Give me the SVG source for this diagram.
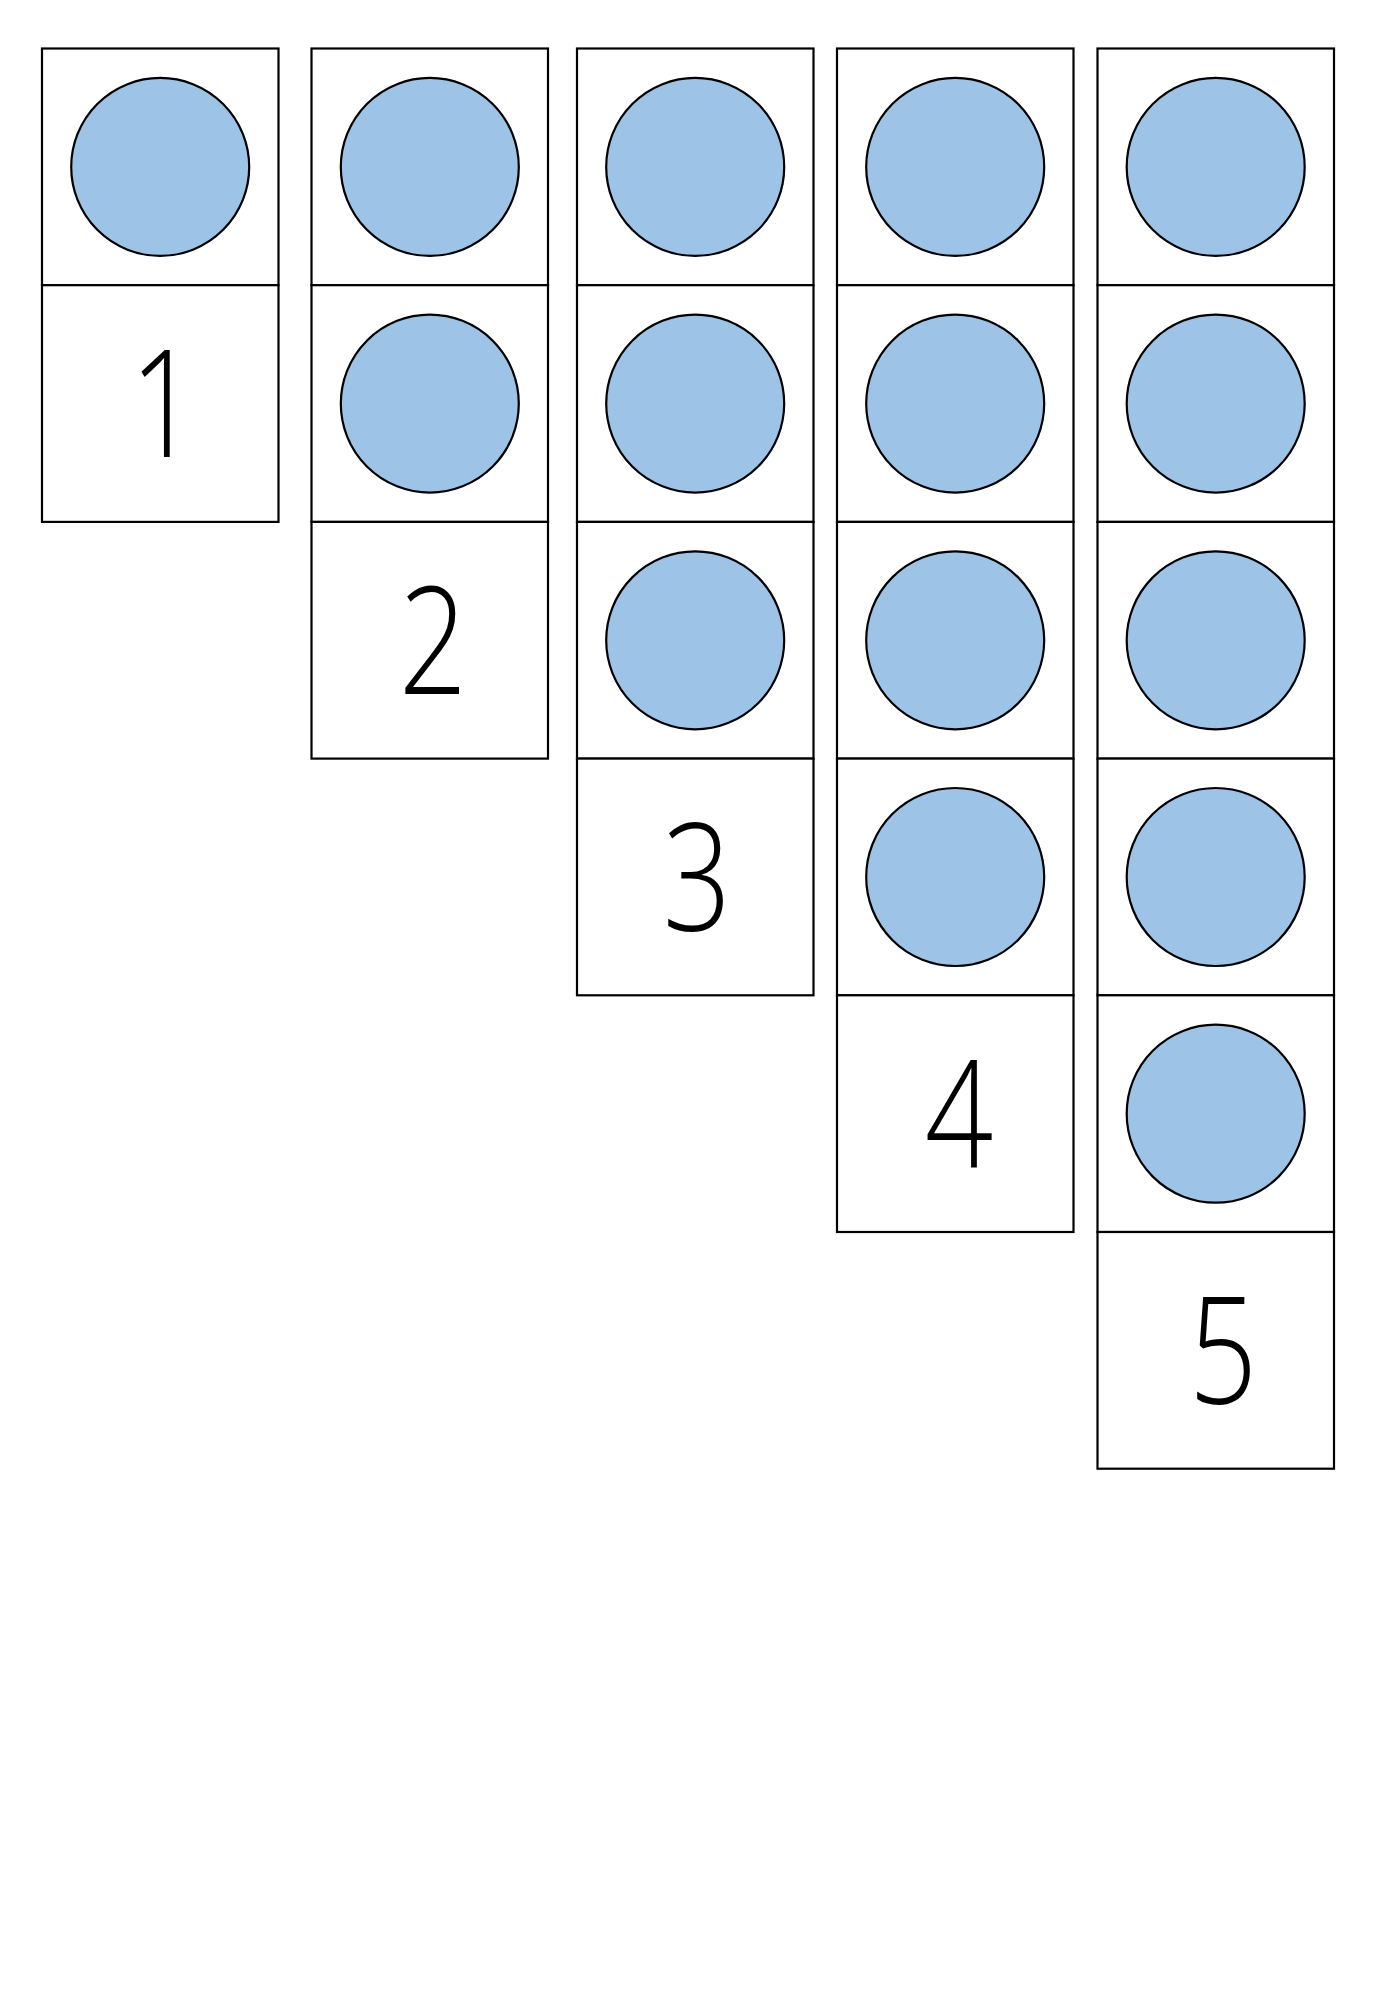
<svg xmlns="http://www.w3.org/2000/svg" width="1385" height="2000" viewBox="0 0 1385 2000">
<style>
.cell{fill:#ffffff;stroke:#000000;stroke-width:2.2}
.dot{fill:#9dc3e6;stroke:#000000;stroke-width:2.2}
.num{font-family:"Open Sans","Liberation Sans",sans-serif;font-weight:300;font-size:150px;fill:#000000;text-anchor:middle}
</style>
<rect x="0" y="0" width="1385" height="2000" fill="#ffffff"/>
<g id="column-1">
<g id="c1-dot1"><rect class="cell" x="42" y="48.5" width="236.5" height="236.7"/><circle class="dot" cx="160.2" cy="166.9" r="89"/></g>
<g id="c1-num"><rect class="cell" x="42" y="285.2" width="236.5" height="236.7"/><text class="num" transform="translate(164 457) scale(0.8 1)">1</text></g>
</g>
<g id="column-2">
<g id="c2-dot1"><rect class="cell" x="311.5" y="48.5" width="236.5" height="236.7"/><circle class="dot" cx="429.8" cy="166.9" r="89"/></g>
<g id="c2-dot2"><rect class="cell" x="311.5" y="285.2" width="236.5" height="236.7"/><circle class="dot" cx="429.8" cy="403.6" r="89"/></g>
<g id="c2-num"><rect class="cell" x="311.5" y="521.9" width="236.5" height="236.7"/><text class="num" transform="translate(433 694) scale(0.8 1)">2</text></g>
</g>
<g id="column-3">
<g id="c3-dot1"><rect class="cell" x="577" y="48.5" width="236.5" height="236.7"/><circle class="dot" cx="695.2" cy="166.9" r="89"/></g>
<g id="c3-dot2"><rect class="cell" x="577" y="285.2" width="236.5" height="236.7"/><circle class="dot" cx="695.2" cy="403.6" r="89"/></g>
<g id="c3-dot3"><rect class="cell" x="577" y="521.9" width="236.5" height="236.7"/><circle class="dot" cx="695.2" cy="640.3" r="89"/></g>
<g id="c3-num"><rect class="cell" x="577" y="758.6" width="236.5" height="236.7"/><text class="num" transform="translate(697 931) scale(0.8 1)">3</text></g>
</g>
<g id="column-4">
<g id="c4-dot1"><rect class="cell" x="837" y="48.5" width="236.5" height="236.7"/><circle class="dot" cx="955.2" cy="166.9" r="89"/></g>
<g id="c4-dot2"><rect class="cell" x="837" y="285.2" width="236.5" height="236.7"/><circle class="dot" cx="955.2" cy="403.6" r="89"/></g>
<g id="c4-dot3"><rect class="cell" x="837" y="521.9" width="236.5" height="236.7"/><circle class="dot" cx="955.2" cy="640.3" r="89"/></g>
<g id="c4-dot4"><rect class="cell" x="837" y="758.6" width="236.5" height="236.7"/><circle class="dot" cx="955.2" cy="877" r="89"/></g>
<g id="c4-num"><rect class="cell" x="837" y="995.3" width="236.5" height="236.7"/><text class="num" transform="translate(959 1167) scale(0.8 1)">4</text></g>
</g>
<g id="column-5">
<g id="c5-dot1"><rect class="cell" x="1097.5" y="48.5" width="236.5" height="236.7"/><circle class="dot" cx="1215.7" cy="166.9" r="89"/></g>
<g id="c5-dot2"><rect class="cell" x="1097.5" y="285.2" width="236.5" height="236.7"/><circle class="dot" cx="1215.7" cy="403.6" r="89"/></g>
<g id="c5-dot3"><rect class="cell" x="1097.5" y="521.9" width="236.5" height="236.7"/><circle class="dot" cx="1215.7" cy="640.3" r="89"/></g>
<g id="c5-dot4"><rect class="cell" x="1097.5" y="758.6" width="236.5" height="236.7"/><circle class="dot" cx="1215.7" cy="877" r="89"/></g>
<g id="c5-dot5"><rect class="cell" x="1097.5" y="995.3" width="236.5" height="236.7"/><circle class="dot" cx="1215.7" cy="1113.7" r="89"/></g>
<g id="c5-num"><rect class="cell" x="1097.5" y="1232" width="236.5" height="236.7"/><text class="num" transform="translate(1223 1404) scale(0.8 1)">5</text></g>
</g>
<g id="connectors"/>
</svg>
